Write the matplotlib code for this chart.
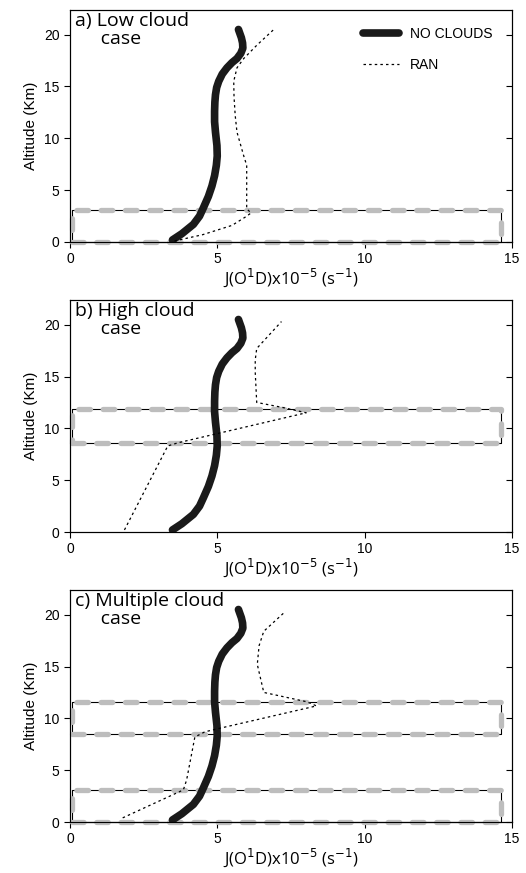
import numpy as np
import matplotlib.pyplot as plt

# perfil sin nubes (igual en los tres paneles)
alt_nc = [0.2, 0.8, 1.7, 2.5, 3.3, 4.4, 5.4, 6.4, 7.4, 8.3, 9.3, 10.6, 11.6, 12.6,
          13.5, 14.2, 14.9, 15.5, 16.2, 16.8, 17.3, 17.7, 18.2, 18.7, 19.2, 19.7, 20.5]
j_nc = [3.48, 3.80, 4.19, 4.40, 4.53, 4.70, 4.82, 4.91, 4.97, 5.00, 4.99, 4.94, 4.91, 4.91,
        4.92, 4.94, 4.98, 5.05, 5.17, 5.33, 5.50, 5.67, 5.80, 5.87, 5.86, 5.82, 5.72]

# perfiles RAN
alt_ran_a = [0.1, 0.7, 1.6, 2.4, 2.8, 3.2, 5.0, 7.4, 8.3, 9.5, 10.6, 12.2, 14.0, 15.5, 16.8, 17.7, 19.0, 20.5]
j_ran_a = [3.55, 4.5, 5.5, 5.95, 6.15, 6.0, 6.0, 6.0, 5.9, 5.78, 5.67, 5.61, 5.57, 5.56, 5.67, 5.9, 6.35, 6.92]

alt_ran_b = [0.2, 8.3, 8.6, 11.5, 12.0, 12.5, 15.4, 16.6, 17.7, 20.3]
j_ran_b = [1.85, 3.32, 3.66, 8.02, 7.24, 6.34, 6.29, 6.29, 6.34, 7.18]

alt_ran_c = [0.4, 3.1, 4.05, 8.2, 8.7, 9.0, 11.2, 11.6, 12.5, 15.2, 17.0, 18.4, 20.3]
j_ran_c = [1.79, 3.85, 3.96, 4.24, 4.58, 5.02, 8.37, 8.04, 6.58, 6.36, 6.42, 6.58, 7.31]

# capas de nubes (base, tope)
nubes_a = [(0.0, 3.1)]
nubes_b = [(8.6, 11.85)]
nubes_c = [(0.0, 3.1), (8.45, 11.55)]
nube_x = (0.08, 14.65)

titulos = ["a) Low cloud\n     case", "b) High cloud\n     case", "c) Multiple cloud\n     case"]
paneles = [(alt_ran_a, j_ran_a, nubes_a), (alt_ran_b, j_ran_b, nubes_b), (alt_ran_c, j_ran_c, nubes_c)]
bottoms = [0.7228, 0.3906, 0.0584]

plt.rcParams['font.family'] = ['Liberation Sans', 'DejaVu Sans']
fig = plt.figure(figsize=(5.26, 8.73), dpi=100)

for i, (alt_r, j_r, nubes) in enumerate(paneles):
    ax = fig.add_axes([0.133, bottoms[i], 0.840, 0.266])
    # nubes: linea negra fina + guiones grises gruesos
    for (b, t) in nubes:
        xs = [nube_x[0], nube_x[1], nube_x[1], nube_x[0], nube_x[0]]
        ys = [b, b, t, t, b]
        ax.plot(xs, ys, color='black', lw=0.8, zorder=2, clip_on=False)
        ax.plot(xs, ys, color='#bdbdbd', lw=3.8, ls=(0, (2.2, 2.4)),
                solid_capstyle='round', dash_capstyle='round', zorder=3, clip_on=False)
    ax.plot(j_nc, alt_nc, color='#1a1a1a', lw=5.5, solid_capstyle='round',
            solid_joinstyle='round', zorder=4, label='NO CLOUDS')
    ax.plot(j_r, alt_r, color='black', lw=0.9, ls=(0, (2, 2.5)), zorder=5, label='RAN')
    ax.set_xlim(0, 15)
    ax.set_ylim(0, 22.4)
    ax.set_xticks([0, 5, 10, 15])
    ax.set_yticks([0, 5, 10, 15, 20])
    ax.tick_params(labelsize=10, direction='out', length=4)
    ax.set_ylabel("Altitude (Km)", fontsize=11, labelpad=4)
    ax.set_xlabel("J(O$^1$D)x10$^{-5}$ (s$^{-1}$)", fontsize=12, labelpad=0,
                  family=['Open Sans', 'DejaVu Sans'])
    ax.text(0.012, 0.99, titulos[i], transform=ax.transAxes, va='top', ha='left',
            fontsize=14, family=['Open Sans', 'DejaVu Sans'], linespacing=1.0)
    # ticks de la derecha hacia adentro
    axr = ax.twinx()
    axr.set_ylim(ax.get_ylim())
    axr.set_yticks([0, 5, 10, 15, 20])
    axr.tick_params(direction='in', length=4, labelright=False)
    if i == 0:
        ax.legend(loc='upper right', frameon=False, fontsize=10, handlelength=2.6,
                  labelspacing=1.2, bbox_to_anchor=(0.985, 0.98))

fig.savefig("out.png", dpi=100)
